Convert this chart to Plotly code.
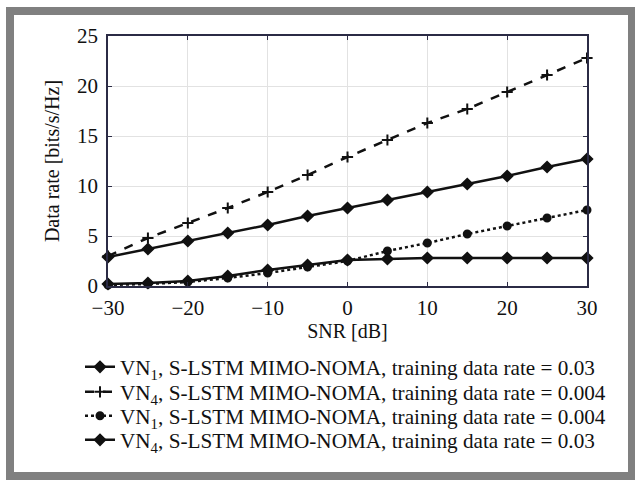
import plotly.graph_objects as go

# SNR sweep (dB)
snr_db = [-30, -25, -20, -15, -10, -5, 0, 5, 10, 15, 20, 25, 30]

# Achievable data rate per scenario [bits/s/Hz]
vn1_rate_003 = [0.2, 0.3, 0.5, 1.0, 1.6, 2.1, 2.6, 2.7, 2.8, 2.8, 2.8, 2.8, 2.8]
vn4_rate_0004 = [3.0, 4.8, 6.3, 7.8, 9.4, 11.1, 12.9, 14.6, 16.3, 17.7, 19.4, 21.1, 22.8]
vn1_rate_0004 = [0.1, 0.2, 0.4, 0.8, 1.3, 1.9, 2.5, 3.5, 4.3, 5.2, 6.0, 6.8, 7.6]
vn4_rate_003 = [2.9, 3.7, 4.5, 5.3, 6.1, 7.0, 7.8, 8.6, 9.4, 10.2, 11.0, 11.9, 12.7]

series_names = [
    "VN<sub>1</sub>, S-LSTM MIMO-NOMA, training data rate = 0.03",
    "VN<sub>4</sub>, S-LSTM MIMO-NOMA, training data rate = 0.004",
    "VN<sub>1</sub>, S-LSTM MIMO-NOMA, training data rate = 0.004",
    "VN<sub>4</sub>, S-LSTM MIMO-NOMA, training data rate = 0.03",
]

x_tick_vals = [-30, -20, -10, 0, 10, 20, 30]
x_tick_text = ["\u221230", "\u221220", "\u221210", "0", "10", "20", "30"]
y_tick_vals = [0, 5, 10, 15, 20, 25]

W, H = 635, 482
ML, MR, MT, MB = 108, 48, 36, 196
PW, PH = W - ML - MR, H - MT - MB

FONT = "Liberation Serif, Times New Roman, serif"
INK = "#111111"

styles = [
    dict(dash="solid", symbol="diamond", size=8),
    dict(dash="dash", symbol="cross-thin", size=8),
    dict(dash="dot", symbol="circle", size=7),
    dict(dash="solid", symbol="diamond", size=8),
]
data = [vn1_rate_003, vn4_rate_0004, vn1_rate_0004, vn4_rate_003]
legend_ids = ["legend", "legend2", "legend3", "legend4"]
legend_rows_px = [367, 392, 416, 440]


def px_x(p):
    return (p - ML) / PW


def px_y(p):
    return (H - MB - p) / PH


fig = go.Figure()
for name, ys, st, lg in zip(series_names, data, styles, legend_ids):
    fig.add_trace(go.Scatter(
        x=snr_db, y=ys, name=name, mode="lines+markers", legend=lg,
        line=dict(color=INK, width=2.5, dash=st["dash"]),
        marker=dict(color=INK, symbol=st["symbol"], size=st["size"],
                    line=dict(color=INK, width=2)),
        cliponaxis=False,
    ))

# grey frame around the whole figure
frame = [
    (6, 7, 14, 480),
    (6, 7, 636, 15),
    (628, 7, 636, 480),
    (6, 472, 636, 480),
]
shapes = []
for x0, y0, x1, y1 in frame:
    shapes.append(dict(type="rect", xref="paper", yref="paper",
                       x0=px_x(x0), x1=px_x(x1), y0=px_y(y1), y1=px_y(y0),
                       fillcolor="#808080", line=dict(width=0), layer="above"))

axis_common = dict(
    showline=True, linecolor="#2b2b45", linewidth=1.5, mirror="ticks",
    ticks="inside", ticklen=4, tickcolor="#2b2b45",
    showgrid=True, gridcolor="#e2e2e2", gridwidth=1, zeroline=False,
    tickfont=dict(family=FONT, size=21, color=INK),
)

legend_layout = {}
for lg, row in zip(legend_ids, legend_rows_px):
    legend_layout[lg] = dict(
        x=px_x(80), y=px_y(row), xanchor="left", yanchor="middle",
        font=dict(family=FONT, size=21.2, color=INK),
        itemwidth=30, bgcolor="rgba(0,0,0,0)",
    )

fig.update_layout(
    width=W, height=H,
    margin=dict(l=ML, r=MR, t=MT, b=MB, autoexpand=False),
    paper_bgcolor="white", plot_bgcolor="white",
    font=dict(family=FONT, size=20, color=INK),
    showlegend=True,
    xaxis=dict(range=[-30, 30], tickvals=x_tick_vals, ticktext=x_tick_text,
               ticklabelstandoff=2,
               title=dict(text="SNR [dB]", font=dict(family=FONT, size=20, color=INK), standoff=2),
               **axis_common),
    yaxis=dict(range=[0, 25], tickvals=y_tick_vals, ticklabelstandoff=4,
               title=dict(text="Data rate [bits/s/Hz]", font=dict(family=FONT, size=20, color=INK), standoff=12),
               **axis_common),
    shapes=shapes,
    **legend_layout,
)

fig.write_html("out.html")
